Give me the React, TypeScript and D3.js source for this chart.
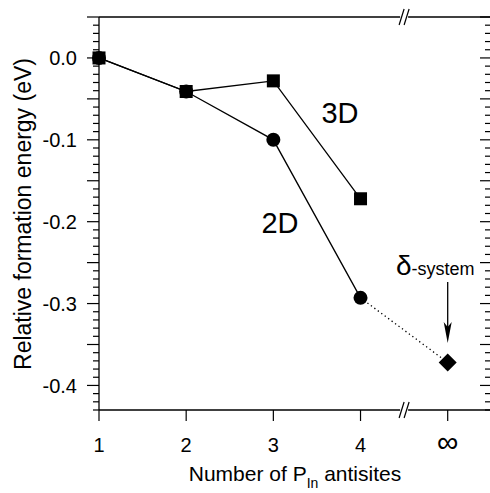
import React from "react";
import * as d3 from "d3";

const categories = ["1", "2", "3", "4", "∞"];
const series2D = [0.0, -0.041, -0.1, -0.293];
const series3D = [0.0, -0.041, -0.028, -0.172];
const deltaSystem = -0.372;
const yTickLabels = [0.0, -0.1, -0.2, -0.3, -0.4];

const W = 490;
const H = 493;
const FONT = "'Liberation Sans', Arial, Helvetica, sans-serif";

export default function App() {
  const x = d3.scaleLinear().domain([0, 4]).range([99, 447.7]);
  const y = d3.scaleLinear().domain([-0.43, 0.05]).range([410, 17]);
  const left = 99;
  const right = 490;
  const top = y(0.05);
  const bottom = y(-0.43);

  const minor = d3.range(-43, 6).map((i) => i / 100);
  const line = d3
    .line<number>()
    .x((_, i) => x(i))
    .y((d) => y(d));

  const breakX = x(3.5);
  const slash = (cx: number, cy: number, key: string) => (
    <g key={key}>
      <rect x={cx - 4} y={cy - 2} width={8} height={4} fill="white" />
      <line x1={cx - 5} y1={cy + 8} x2={cx} y2={cy - 8} stroke="black" strokeWidth={1.2} />
      <line x1={cx} y1={cy + 8} x2={cx + 5} y2={cy - 8} stroke="black" strokeWidth={1.2} />
    </g>
  );

  const sq = 13;
  const ax = x(4);
  const dy = y(deltaSystem);

  return (
    <svg
      width={W}
      height={H}
      style={{ position: "absolute", left: 0, top: 0, background: "white" }}
      fontFamily={FONT}
    >
      <rect width={W} height={H} fill="white" />
      {/* axes lines */}
      <line x1={left} y1={top} x2={right} y2={top} stroke="black" strokeWidth={1.3} />
      <line x1={left} y1={bottom} x2={right} y2={bottom} stroke="black" strokeWidth={1.3} />
      <line x1={left} y1={top} x2={left} y2={bottom} stroke="black" strokeWidth={1.3} />
      {/* y ticks */}
      {minor.map((v) => {
        const isMajor = Math.abs(Math.round(v * 100) % 5) === 0;
        const yy = y(v);
        return (
          <g key={"t" + v}>
            <line x1={left - (isMajor ? 12 : 6)} y1={yy} x2={left} y2={yy} stroke="black" strokeWidth={1.2} />
            <line x1={right - (isMajor ? 10 : 5)} y1={yy} x2={right} y2={yy} stroke="black" strokeWidth={1.2} />
          </g>
        );
      })}
      {yTickLabels.map((v) => (
        <text
          key={"yl" + v}
          x={77}
          y={y(v)}
          dy="0.36em"
          textAnchor="end"
          fontSize={20}
        >
          {v === 0 ? "0.0" : v.toFixed(1)}
        </text>
      ))}
      {/* x ticks */}
      {categories.map((c, i) => (
        <g key={"x" + c}>
          <line x1={x(i)} y1={bottom} x2={x(i)} y2={bottom + 11} stroke="black" strokeWidth={1.2} />
          <text
            x={x(i)}
            y={452}
            textAnchor="middle"
            fontSize={c === "∞" ? 30 : 20}
          >
            {c}
          </text>
        </g>
      ))}
      {slash(breakX, top, "b1")}
      {slash(breakX, bottom, "b2")}
      {/* axis titles */}
      <text
        transform={`translate(31,214) rotate(-90)`}
        textAnchor="middle"
        fontSize={23}
      >
        Relative formation energy (eV)
      </text>
      <text x={295} y={481} textAnchor="middle" fontSize={21}>
        Number of P
        <tspan fontSize={14} dy={7}>In</tspan>
        <tspan dy={-7}> antisites</tspan>
      </text>
      {/* lines */}
      <path d={line(series2D) || ""} fill="none" stroke="black" strokeWidth={1.3} />
      <path d={line(series3D) || ""} fill="none" stroke="black" strokeWidth={1.3} />
      <line
        x1={x(3)}
        y1={y(series2D[3])}
        x2={x(4)}
        y2={dy}
        stroke="black"
        strokeWidth={1.3}
        strokeDasharray="1.3,3"
      />
      {/* markers */}
      {series2D.map((v, i) => (
        <circle key={"c" + i} cx={x(i)} cy={y(v)} r={7} fill="black" />
      ))}
      {series3D.map((v, i) => (
        <rect key={"s" + i} x={x(i) - sq / 2} y={y(v) - sq / 2} width={sq} height={sq} fill="black" />
      ))}
      <path
        d={`M${ax},${dy - 9} L${ax + 9},${dy} L${ax},${dy + 9} L${ax - 9},${dy} Z`}
        fill="black"
      />
      {/* labels */}
      <text x={340} y={123} textAnchor="middle" fontSize={29}>3D</text>
      <text x={280} y={233} textAnchor="middle" fontSize={29}>2D</text>
      <text x={396} y={275} fontSize={18}>
        <tspan fontSize={28}>δ</tspan>-system
      </text>
      {/* arrow */}
      <line x1={ax} y1={282} x2={ax} y2={330} stroke="black" strokeWidth={1.3} />
      <path d={`M${ax - 4},${322} L${ax},${343} L${ax + 4},${322} L${ax},${327} Z`} fill="black" />
    </svg>
  );
}
